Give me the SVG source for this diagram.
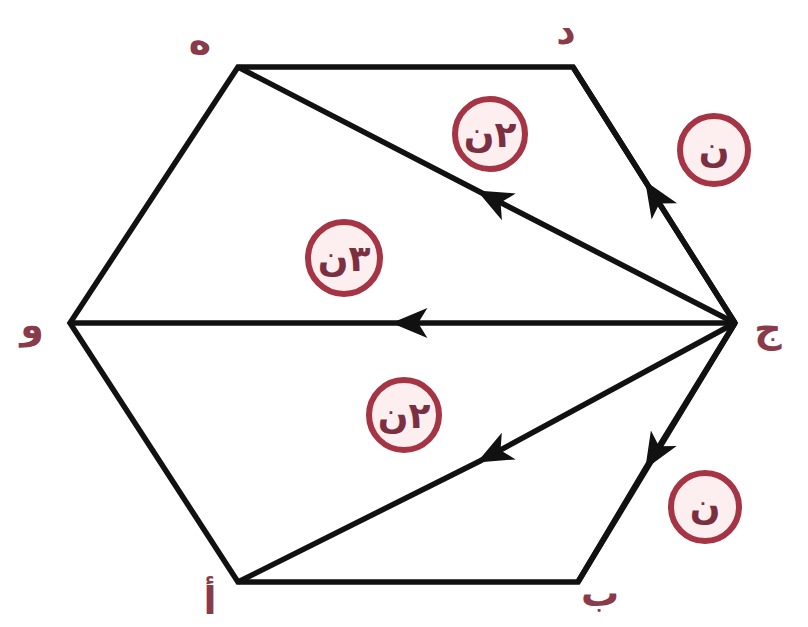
<svg xmlns="http://www.w3.org/2000/svg" width="808" height="627" viewBox="0 0 808 627">
<defs>
<style>
.edge{fill:none;stroke:#111;stroke-width:5.5;stroke-linejoin:miter}
.conn{fill:none;stroke:#111;stroke-width:5.5}
.vl{font-family:"Noto Sans","DejaVu Sans",sans-serif;font-size:38px;font-weight:bold;fill:#8a3b4a;text-anchor:middle}
.cl{fill:#fdeef0;stroke:#a53444;stroke-width:6}
.ct{font-family:"Noto Sans","DejaVu Sans",sans-serif;font-size:36px;font-weight:bold;fill:#7a3040;text-anchor:middle}
</style>
<marker id="ah" markerUnits="userSpaceOnUse" markerWidth="44" markerHeight="44" viewBox="-32 -16 38 32" refX="0" refY="0" orient="auto">
<path d="M3,0 L-28,-13 L-20,0 L-28,13 Z" fill="#111"/>
</marker>
</defs>
<rect width="808" height="627" fill="#fff"/>
<g id="hexagon">
<polygon class="edge" points="238,67 573,67 735,323 578,582 238,582 70,323"/>
</g>
<g id="connectors">
<path class="conn" d="M735,323 L480,192 L238,67" marker-mid="url(#ah)"/>
<path class="conn" d="M735,323 L647,184 L573,67" marker-mid="url(#ah)"/>
<path class="conn" d="M735,323 L395,323 L70,323" marker-mid="url(#ah)"/>
<path class="conn" d="M735,323 L480,461 L238,582" marker-mid="url(#ah)"/>
<path class="conn" d="M735,323 L647,466 L578,582" marker-mid="url(#ah)"/>
</g>
<g id="v-he"><text class="vl" x="200" y="54">ه</text></g>
<g id="v-dal"><text class="vl" x="566" y="44">د</text></g>
<g id="v-jim"><text class="vl" x="768" y="342">ج</text></g>
<g id="v-ba"><text class="vl" x="600" y="606">ب</text></g>
<g id="v-alif"><text class="vl" x="210" y="614">أ</text></g>
<g id="v-waw"><text class="vl" x="32" y="338">و</text></g>
<g id="lab1"><circle class="cl" cx="490" cy="134" r="35"/><text class="ct" x="490" y="147">٢ن</text></g>
<g id="lab2"><circle class="cl" cx="714" cy="150" r="34"/><text class="ct" x="714" y="162">ن</text></g>
<g id="lab3"><circle class="cl" cx="344" cy="258" r="36"/><text class="ct" x="344" y="271">٣ن</text></g>
<g id="lab4"><circle class="cl" cx="404" cy="415" r="35"/><text class="ct" x="404" y="428">٢ن</text></g>
<g id="lab5"><circle class="cl" cx="705" cy="507" r="34"/><text class="ct" x="705" y="519">ن</text></g>
</svg>
